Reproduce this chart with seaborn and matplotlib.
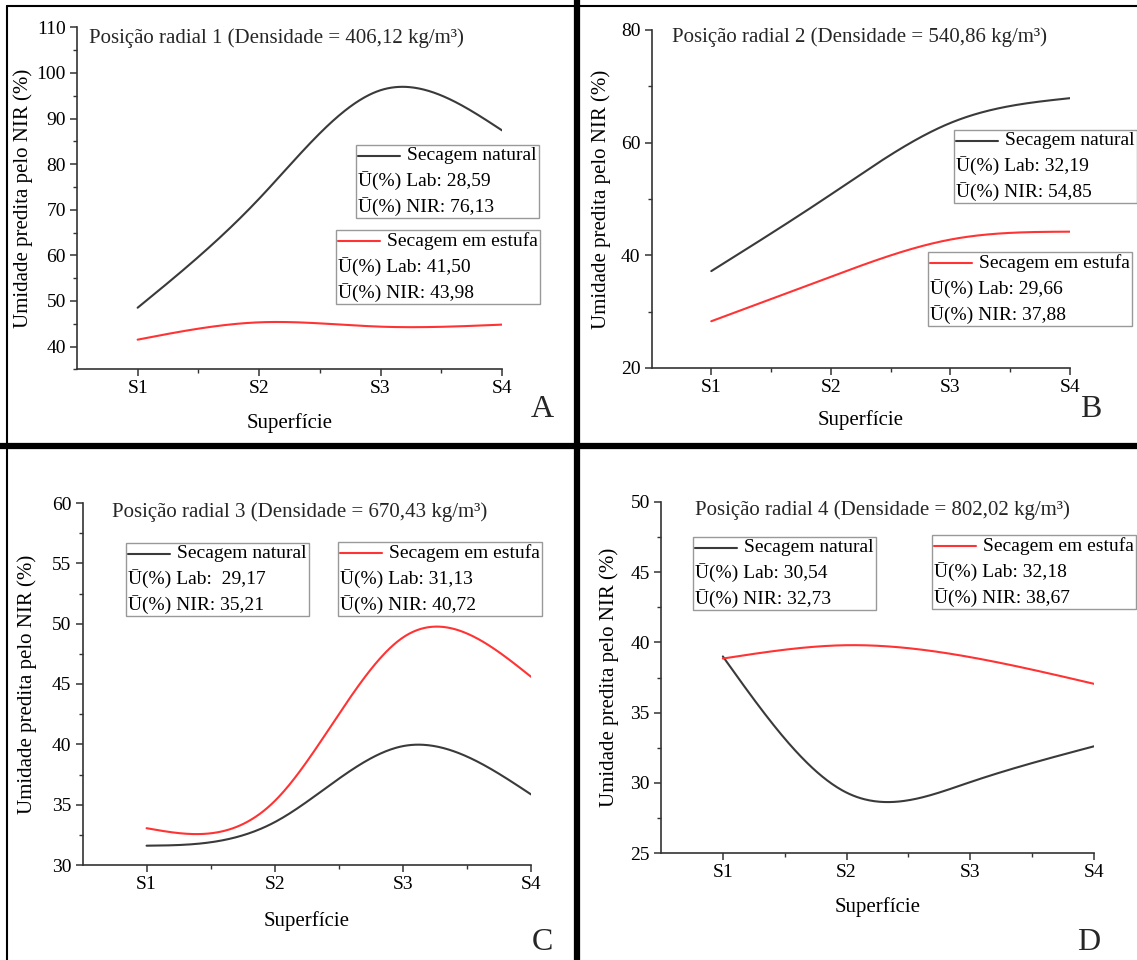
import numpy as np
import pandas as pd
import matplotlib
matplotlib.use("Agg")
import matplotlib.pyplot as plt
import seaborn as sns
from matplotlib.lines import Line2D
from matplotlib.offsetbox import AnchoredOffsetbox, VPacker, HPacker, TextArea, DrawingArea

# ---- data ----
surfaces = ["S1", "S2", "S3", "S4"]
series_names = ["Secagem natural", "Secagem em estufa"]

natural_1 = [48.5, 72.4, 96.2, 87.4]
oven_1 = [41.5, 45.3, 44.35, 44.8]
natural_2 = [37.2, 50.8, 63.5, 67.9]
oven_2 = [28.3, 36.2, 42.8, 44.2]
natural_3 = [31.6, 33.55, 39.85, 35.85]
oven_3 = [33.05, 35.3, 48.85, 45.6]
natural_4 = [39.0, 29.3, 30.05, 32.6]
oven_4 = [38.85, 39.8, 38.95, 37.05]

densities = ["406,12", "540,86", "670,43", "802,02"]
lab_natural = ["28,59", "32,19", " 29,17", "30,54"]
nir_natural = ["76,13", "54,85", "35,21", "32,73"]
lab_oven = ["41,50", "29,66", "31,13", "32,18"]
nir_oven = ["43,98", "37,88", "40,72", "38,67"]
panel_letters = ["A", "B", "C", "D"]

W, H = 1137, 960
NAT_COLOR = "#3a3a3a"
OVEN_COLOR = "#ff3333"


def natural_spline(x, y, xs):
    # natural cubic spline (Origin style "Spline" connect)
    x = np.asarray(x, float)
    y = np.asarray(y, float)
    n = len(x)
    h = np.diff(x)
    A = np.zeros((n, n))
    r = np.zeros(n)
    A[0, 0] = A[-1, -1] = 1
    for i in range(1, n - 1):
        A[i, i - 1] = h[i - 1]
        A[i, i] = 2 * (h[i - 1] + h[i])
        A[i, i + 1] = h[i]
        r[i] = 6 * ((y[i + 1] - y[i]) / h[i] - (y[i] - y[i - 1]) / h[i - 1])
    M = np.linalg.solve(A, r)
    k = np.clip(np.searchsorted(x, xs) - 1, 0, n - 2)
    t = (xs - x[k]) / h[k]
    u = 1 - t
    return (y[k] * u + y[k + 1] * t
            + h[k] ** 2 / 6 * (M[k] * (u ** 3 - u) + M[k + 1] * (t ** 3 - t)))


def fxy(px, py):
    return px / W, 1 - py / H


def legend_box(ax, fig, x, y, color, name, lab, nir):
    da = DrawingArea(30, 8, 0, 0)
    da.add_artist(Line2D([0, 30], [4, 4], color=color, lw=1.5))
    tp = dict(fontsize=14, color="black")
    row = HPacker(children=[da, TextArea(name, textprops=tp)],
                  align="center", pad=0, sep=5)
    rows = VPacker(children=[row,
                             TextArea("Ū(%) Lab: " + lab, textprops=tp),
                             TextArea("Ū(%) NIR: " + nir, textprops=tp)],
                   align="left", pad=0, sep=5)
    box = AnchoredOffsetbox(loc="upper left", child=rows, pad=0.15, borderpad=0,
                            frameon=True, bbox_to_anchor=fxy(x, y),
                            bbox_transform=fig.transFigure)
    box.patch.set_edgecolor("#999999")
    box.patch.set_linewidth(1.0)
    ax.add_artist(box)


sns.set_theme(style="ticks")
plt.rcParams["font.family"] = ["Liberation Serif", "DejaVu Serif"]

fig = plt.figure(figsize=(W / 100, H / 100), dpi=100)

panels = [
    dict(rect=(76.9, 27.3, 502, 369.3), nat=natural_1, oven=oven_1, ylim=(35, 110),
         major=np.arange(40, 111, 10), minor=np.arange(35, 111, 5),
         title=(89, 38), leg_nat=(356, 145), leg_oven=(336, 230), letter=(542, 410),
         ylab_x=33, xlab_top=413),
    dict(rect=(651.5, 30, 1070, 368), nat=natural_2, oven=oven_2, ylim=(20, 80),
         major=np.arange(20, 81, 20), minor=np.arange(20, 81, 10),
         title=(672, 37), leg_nat=(954, 130), leg_oven=(928, 252), letter=(1091, 410),
         ylab_x=611, xlab_top=410),
    dict(rect=(82.5, 503, 531, 865), nat=natural_3, oven=oven_3, ylim=(30, 60),
         major=np.arange(30, 61, 5), minor=np.arange(30, 61, 2.5),
         title=(112, 512), leg_nat=(126, 543), leg_oven=(338, 542), letter=(542, 943),
         ylab_x=37, xlab_top=911),
    dict(rect=(661, 502, 1094, 853), nat=natural_4, oven=oven_4, ylim=(25, 50),
         major=np.arange(25, 51, 5), minor=np.arange(25, 51, 2.5),
         title=(695, 510), leg_nat=(693, 537), leg_oven=(932, 535), letter=(1089, 943),
         ylab_x=619, xlab_top=897),
]

pos = np.arange(1, len(surfaces) + 1)
xs = np.linspace(1, len(surfaces), 300)

for i, p in enumerate(panels):
    l, t, r, b = p["rect"]
    ax = fig.add_axes([l / W, 1 - b / H, (r - l) / W, (b - t) / H])
    frames = []
    for name, vals in zip(series_names, [p["nat"], p["oven"]]):
        frames.append(pd.DataFrame({"pos": xs, "val": natural_spline(pos, vals, xs),
                                    "serie": name}))
    df = pd.concat(frames, ignore_index=True)
    sns.lineplot(data=df, x="pos", y="val", hue="serie", sort=False, estimator=None,
                 palette={series_names[0]: NAT_COLOR, series_names[1]: OVEN_COLOR},
                 linewidth=1.5, legend=False, ax=ax)

    ax.set_xlim(0.5, len(surfaces))
    ax.set_ylim(*p["ylim"])
    ax.set_xticks(pos)
    ax.set_xticklabels(surfaces)
    ax.set_xticks([1.5, 2.5, 3.5], minor=True)
    ax.set_yticks(p["major"])
    ax.set_yticks(p["minor"], minor=True)
    ax.set_yticklabels([f"{v:g}" for v in p["major"]])
    sns.despine(ax=ax)
    for s in ["left", "bottom"]:
        ax.spines[s].set_color("#333333")
        ax.spines[s].set_linewidth(1.2)
    ax.tick_params(which="major", direction="out", length=5, width=1.1,
                   color="#333333", labelsize=14, pad=3, labelcolor="black")
    ax.tick_params(which="minor", direction="out", length=3, width=1.0, color="#333333")
    ax.set_xlabel("Superfície", fontsize=15, color="black")
    ax.set_ylabel("Umidade predita pelo NIR (%)", fontsize=15, color="black")
    ax.xaxis.set_label_coords(0.5, -(p["xlab_top"] - b) / (b - t))
    ax.yaxis.set_label_coords((p["ylab_x"] - l) / (r - l), 0.5)
    ax.set_facecolor("white")

    tx, ty = fxy(*p["title"])
    fig.text(tx, ty, f"Posição radial {i + 1} (Densidade = {densities[i]} kg/m³)",
             fontsize=15, ha="left", va="center")
    lx, ly = fxy(*p["letter"])
    fig.text(lx, ly, panel_letters[i], fontsize=23, ha="center", va="center")

    legend_box(ax, fig, *p["leg_nat"], NAT_COLOR, series_names[0],
               lab_natural[i], nir_natural[i])
    legend_box(ax, fig, *p["leg_oven"], OVEN_COLOR, series_names[1],
               lab_oven[i], nir_oven[i])

# panel separators and outer frame
fig.add_artist(Line2D([576.5 / W] * 2, [0, 1], color="black", lw=4.5))
fig.add_artist(Line2D([0, 1], [1 - 446 / H] * 2, color="black", lw=4.5))
fig.add_artist(Line2D([7 / W, 1], [1 - 6 / H] * 2, color="black", lw=1.5))
fig.add_artist(Line2D([7 / W] * 2, [0, 1 - 6 / H], color="black", lw=1.5))

fig.savefig("out.png", dpi=100, facecolor="white")
